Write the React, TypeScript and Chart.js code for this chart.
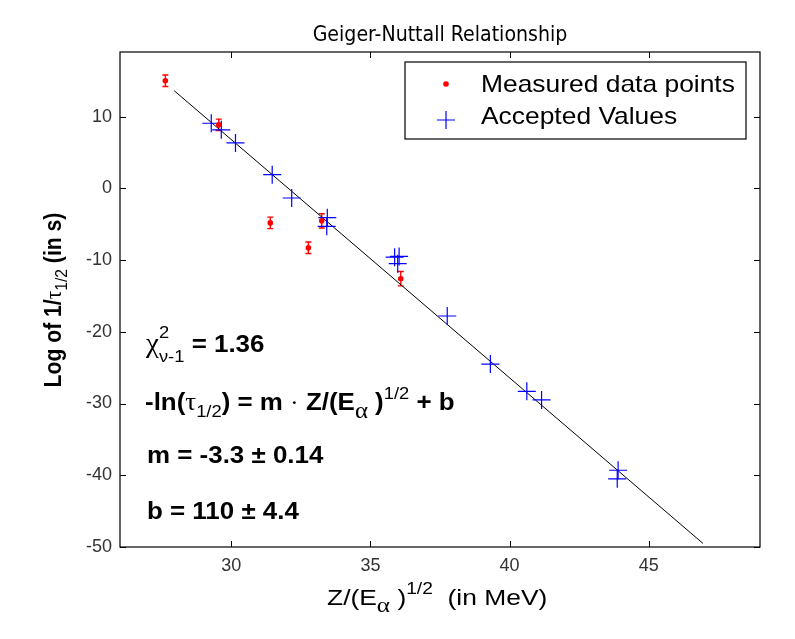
import React, { useEffect, useRef } from "react";
import { Chart, registerables } from "chart.js";

Chart.register(...registerables);

// ---- data ----
const MEASURED_X = [27.63, 29.55, 31.4, 32.77, 33.25, 36.09];
const MEASURED_Y = [15.0, 8.85, -4.82, -8.29, -4.54, -12.6];
const MEASURED_ERR = [0.8, 0.8, 0.8, 0.8, 1.0, 1.0];

const ACCEPTED_X = [29.28, 29.64, 30.15, 31.47, 32.17, 33.45, 33.43, 35.87, 36.03, 35.98, 37.76, 39.31, 40.62, 41.15, 43.9, 43.87];
const ACCEPTED_Y = [9.07, 8.15, 6.33, 1.9, -1.35, -4.1, -5.3, -9.6, -9.5, -10.5, -17.8, -24.5, -28.3, -29.5, -39.3, -40.5];

const FIT_X = [27.95, 46.95];
const FIT_Y = [13.6, -49.5];

const X_TICKS = [30, 35, 40, 45];
const Y_TICKS = [-50, -40, -30, -20, -10, 0, 10];
const X_RANGE = [26, 49];
const Y_RANGE = [-50, 19];

const TITLE = "Geiger-Nuttall Relationship";
const LEGEND_LABELS = ["Measured data points", "Accepted Values"];
const CHI_VALUE = "1.36";
const M_TEXT = "m = -3.3 \u00b1 0.14";
const B_TEXT = "b = 110 \u00b1 4.4";

// ---- styling ----
const SANS = '"Liberation Sans", Arial, sans-serif';
const SERIF = '"Liberation Serif", "Times New Roman", serif';
const TITLE_FONT = '22px "DejaVu Sans Condensed", "DejaVu Sans", sans-serif';

type Seg = { t: string; f: string; dy?: number; noAdv?: boolean };

function segWidth(ctx: CanvasRenderingContext2D, segs: Seg[]) {
  let w = 0;
  for (const s of segs) {
    ctx.font = s.f;
    if (!s.noAdv) w += ctx.measureText(s.t).width;
  }
  return w;
}

function drawRich(ctx: CanvasRenderingContext2D, x: number, y: number, segs: Seg[], sx = 1) {
  ctx.save();
  ctx.translate(x, y);
  ctx.scale(sx, 1);
  let cx = 0;
  for (const s of segs) {
    ctx.font = s.f;
    ctx.fillText(s.t, cx, s.dy || 0);
    if (!s.noAdv) cx += ctx.measureText(s.t).width;
  }
  ctx.restore();
}

const decorPlugin = {
  id: "decor",
  beforeDatasetsDraw(chart: any) {
    const ctx: CanvasRenderingContext2D = chart.ctx;
    const xs = chart.scales.x;
    const ys = chart.scales.y;
    ctx.save();
    ctx.strokeStyle = "#ff0000";
    ctx.lineWidth = 1.4;
    for (let i = 0; i < MEASURED_X.length; i++) {
      const px = xs.getPixelForValue(MEASURED_X[i]);
      const p1 = ys.getPixelForValue(MEASURED_Y[i] + MEASURED_ERR[i]);
      const p2 = ys.getPixelForValue(MEASURED_Y[i] - MEASURED_ERR[i]);
      ctx.beginPath();
      ctx.moveTo(px, p1);
      ctx.lineTo(px, p2);
      ctx.moveTo(px - 3, p1);
      ctx.lineTo(px + 3, p1);
      ctx.moveTo(px - 3, p2);
      ctx.lineTo(px + 3, p2);
      ctx.stroke();
    }
    ctx.restore();
  },
  afterDraw(chart: any) {
    const ctx: CanvasRenderingContext2D = chart.ctx;
    const a = chart.chartArea;
    const xs = chart.scales.x;
    const ys = chart.scales.y;
    ctx.save();
    // axes box
    ctx.strokeStyle = "#000";
    ctx.lineWidth = 1.2;
    ctx.strokeRect(a.left, a.top, a.right - a.left, a.bottom - a.top);
    // inner ticks
    ctx.lineWidth = 1;
    ctx.beginPath();
    for (const v of X_TICKS) {
      const px = Math.round(xs.getPixelForValue(v)) + 0.5;
      ctx.moveTo(px, a.bottom);
      ctx.lineTo(px, a.bottom - 6);
      ctx.moveTo(px, a.top);
      ctx.lineTo(px, a.top + 6);
    }
    for (const v of Y_TICKS) {
      const py = Math.round(ys.getPixelForValue(v)) + 0.5;
      ctx.moveTo(a.left, py);
      ctx.lineTo(a.left + 6, py);
      ctx.moveTo(a.right, py);
      ctx.lineTo(a.right - 6, py);
    }
    ctx.stroke();

    ctx.fillStyle = "#000";
    ctx.textBaseline = "alphabetic";
    // title
    ctx.font = TITLE_FONT;
    const tw = ctx.measureText(TITLE).width;
    drawRich(ctx, (a.left + a.right) / 2 - (tw * 0.96) / 2, 41, [{ t: TITLE, f: TITLE_FONT }], 0.96);

    // legend
    ctx.strokeStyle = "#000";
    ctx.lineWidth = 1.2;
    ctx.fillStyle = "#fff";
    ctx.fillRect(405, 62, 341, 77);
    ctx.strokeRect(405, 62, 341, 77);
    ctx.fillStyle = "#ff0000";
    ctx.beginPath();
    ctx.arc(446, 84, 2.8, 0, Math.PI * 2);
    ctx.fill();
    ctx.strokeStyle = "#0000ff";
    ctx.lineWidth = 1.2;
    ctx.beginPath();
    ctx.moveTo(437, 120);
    ctx.lineTo(455, 120);
    ctx.moveTo(446, 111);
    ctx.lineTo(446, 129);
    ctx.stroke();
    ctx.fillStyle = "#000";
    const LF = "24px " + SANS;
    drawRich(ctx, 481, 92, [{ t: LEGEND_LABELS[0], f: LF }], 1.1);
    drawRich(ctx, 481, 124, [{ t: LEGEND_LABELS[1], f: LF }], 1.1);

    // annotations
    const B = "bold 24px " + SANS;
    const R17 = "17px " + SANS;
    const AS = 1.08;
    drawRich(ctx, 146, 352, [
      { t: "\u03c7", f: "27px " + SERIF },
      { t: "2", f: R17, dy: -14, noAdv: true },
      { t: "\u03bd-1", f: R17, dy: 10 },
      { t: " = " + CHI_VALUE, f: B },
    ], AS);
    drawRich(ctx, 145, 410, [
      { t: "-ln(", f: B },
      { t: "\u03c4", f: "25px " + SERIF },
      { t: "1/2", f: R17, dy: 7 },
      { t: ") = m ", f: B },
      { t: "\u00b7", f: "24px " + SERIF },
      { t: " Z/(E", f: B },
      { t: "\u03b1", f: "23px " + SERIF, dy: 8 },
      { t: " )", f: B },
      { t: "1/2", f: R17, dy: -11 },
      { t: " + b", f: B },
    ], AS);
    drawRich(ctx, 147, 463, [{ t: M_TEXT, f: B }], AS);
    drawRich(ctx, 147, 519, [{ t: B_TEXT, f: B }], AS);

    // x axis label
    const R22 = "22px " + SANS;
    drawRich(ctx, 327, 605, [
      { t: "Z/(E", f: R22 },
      { t: "\u03b1", f: "21px " + SERIF, dy: 7 },
      { t: " )", f: R22 },
      { t: "1/2", f: "16px " + SANS, dy: -11 },
      { t: "  (in MeV)", f: R22 },
    ], 1.2);

    // y axis label
    const yl: Seg[] = [
      { t: "Log of 1/", f: "bold 23px " + SANS },
      { t: "\u03c4", f: "23px " + SERIF },
      { t: "1/2", f: "17px " + SANS, dy: 6 },
      { t: " (in s)", f: "bold 23px " + SANS },
    ];
    const YS = 0.92;
    const w = segWidth(ctx, yl) * YS;
    ctx.translate(61, 300);
    ctx.rotate(-Math.PI / 2);
    drawRich(ctx, -w / 2, 0, yl, YS);
    ctx.restore();
  },
};

export default function App() {
  const ref = useRef<HTMLCanvasElement | null>(null);
  useEffect(() => {
    document.body.style.margin = "0";
    const canvas = ref.current!;
    const chart = new Chart(canvas, {
      type: "scatter",
      data: {
        datasets: [
          {
            label: LEGEND_LABELS[0],
            data: MEASURED_X.map((x, i) => ({ x, y: MEASURED_Y[i] })),
            pointStyle: "circle",
            pointRadius: 2.8,
            pointBackgroundColor: "#ff0000",
            pointBorderColor: "#ff0000",
            pointBorderWidth: 0,
            showLine: false,
          },
          {
            label: LEGEND_LABELS[1],
            data: ACCEPTED_X.map((x, i) => ({ x, y: ACCEPTED_Y[i] })),
            pointStyle: "cross",
            pointRadius: 9,
            pointBorderColor: "#0000ff",
            pointBackgroundColor: "#0000ff",
            pointBorderWidth: 1.2,
            showLine: false,
          },
          {
            label: "fit",
            data: FIT_X.map((x, i) => ({ x, y: FIT_Y[i] })),
            showLine: true,
            borderColor: "#000",
            borderWidth: 1,
            pointRadius: 0,
          },
        ],
      },
      options: {
        animation: false,
        responsive: false,
        devicePixelRatio: 1,
        layout: { padding: { top: 52, right: 35, left: 0, bottom: 0 } },
        plugins: {
          legend: { display: false },
          title: { display: false },
          tooltip: { enabled: false },
        },
        scales: {
          x: {
            type: "linear",
            min: X_RANGE[0],
            max: X_RANGE[1],
            afterBuildTicks: (s: any) => {
              s.ticks = X_TICKS.map((v) => ({ value: v }));
            },
            afterFit: (s: any) => {
              s.height = 92;
            },
            grid: { display: false, drawTicks: false },
            border: { display: false },
            ticks: {
              padding: 8,
              color: "#333",
              font: { family: SANS, size: 18 },
              maxRotation: 0,
            },
          },
          y: {
            type: "linear",
            min: Y_RANGE[0],
            max: Y_RANGE[1],
            afterBuildTicks: (s: any) => {
              s.ticks = Y_TICKS.map((v) => ({ value: v }));
            },
            afterFit: (s: any) => {
              s.width = 120;
            },
            grid: { display: false, drawTicks: false },
            border: { display: false },
            ticks: {
              padding: 8,
              color: "#333",
              font: { family: SANS, size: 18 },
            },
          },
        },
      },
      plugins: [decorPlugin],
    } as any);
    return () => chart.destroy();
  }, []);
  return (
    <div style={{ position: "absolute", left: 0, top: 0, width: 795, height: 639, background: "#fff" }}>
      <canvas ref={ref} width={795} height={639} />
    </div>
  );
}
